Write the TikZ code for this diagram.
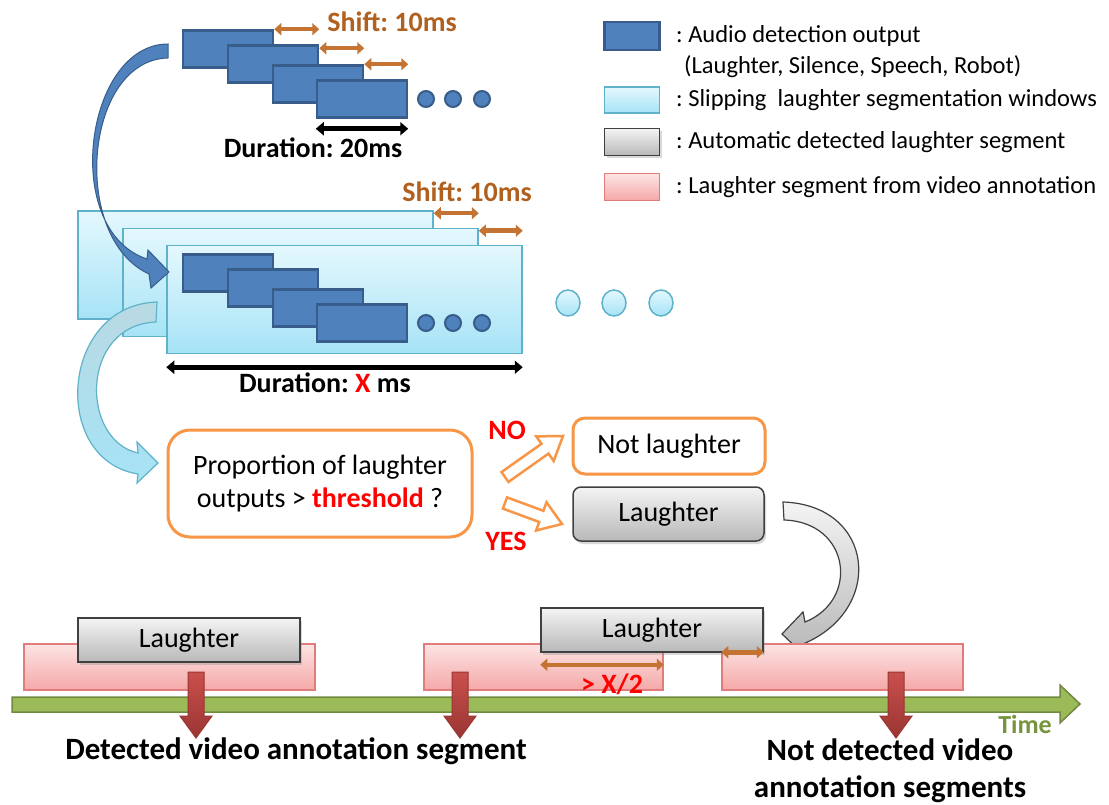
\documentclass[tikz,border=0pt]{standalone}
\usepackage{fontspec}
\setmainfont{Carlito}
\frenchspacing
\definecolor{audioblue}{HTML}{4F81BD}
\definecolor{audioedge}{HTML}{385D8A}
\definecolor{wintop}{HTML}{E4F8FD}
\definecolor{winbot}{HTML}{A6E3F6}
\definecolor{winedge}{HTML}{5FB2C9}
\definecolor{shiftbrown}{HTML}{C47332}
\definecolor{labelbrown}{HTML}{B0601F}
\definecolor{boxorange}{HTML}{F79646}
\definecolor{graytop}{HTML}{F4F4F4}
\definecolor{graybot}{HTML}{B8B8B8}
\definecolor{grayedge}{HTML}{404040}
\definecolor{pinktop}{HTML}{FDE4E4}
\definecolor{pinkbot}{HTML}{F5A8A8}
\definecolor{pinkedge}{HTML}{E07C7C}
\definecolor{timegreen}{HTML}{9BBB59}
\definecolor{timeedge}{HTML}{71893F}
\definecolor{timetext}{HTML}{77933C}
\definecolor{markred}{HTML}{C9504D}
\definecolor{markdark}{HTML}{9A3532}
\usetikzlibrary{arrows.meta,positioning,calc,shadows}

\newcommand\txtsize{\fontsize{28}{33}\selectfont}
\newcommand\legsize{\fontsize{24.5}{30}\selectfont}
\newcommand\bigsize{\fontsize{31}{37}\selectfont}

\tikzset{
  audiobox/.style={draw=audioedge,fill=audioblue,line width=2.5pt,minimum width=90pt,minimum height=37pt,inner sep=0pt},
  audiodot/.style={draw=audioedge,fill=audioblue,line width=2pt},
  winbox/.style={draw=winedge,top color=wintop,bottom color=winbot,line width=1.5pt,inner sep=0pt},
  windot/.style={draw=winedge,top color=wintop,bottom color=winbot,line width=1.5pt},
  graybox/.style={draw=grayedge,top color=graytop,bottom color=graybot,line width=1.5pt,inner sep=0pt,font=\txtsize,
    drop shadow={shadow xshift=2pt,shadow yshift=-3pt,opacity=0.3}},
  pinkseg/.style={draw=pinkedge,top color=pinktop,bottom color=pinkbot,line width=1.5pt,minimum height=46pt,inner sep=0pt},
  orangebox/.style={draw=boxorange,fill=white,line width=3pt,inner sep=0pt,font=\txtsize,align=center},
  shiftarr/.style={{Triangle[length=7pt,width=12pt]}-{Triangle[length=7pt,width=12pt]},draw=shiftbrown,line width=4.5pt},
  durarr/.style={{Triangle[length=8pt,width=13pt]}-{Triangle[length=8pt,width=13pt]},draw=black,line width=4.5pt},
  shiftlabel/.style={font=\txtsize\bfseries,text=labelbrown,inner sep=0pt},
  durlabel/.style={font=\txtsize\bfseries,inner sep=0pt},
  legtext/.style={anchor=west,font=\legsize,inner sep=0pt},
  redlabel/.style={font=\txtsize\bfseries,text=red,inner sep=0pt},
  bigtext/.style={font=\bigsize\bfseries,align=center,inner sep=0pt},
  blockarr/.style={draw=boxorange,fill=white,line width=2.5pt,line join=miter},
  redarr/.style={draw=markdark,top color=markred,bottom color=markdark,line width=1pt}
}
\newcommand\dropmark[1]{\draw[redarr] (#1-8,672) -- (#1+8,672) -- (#1+8,716) -- (#1+16,716) -- (#1,738) -- (#1-16,716) -- (#1-8,716) -- cycle;}

\begin{document}
\begin{tikzpicture}[x=1pt,y=-1pt]
\useasboundingbox (0,0) rectangle (1109,805);

% legend
\node[audiobox,minimum width=55pt,minimum height=28pt] (legA) at (632,36) {};
\node[legtext] (legAtxt) at (676,36) {: Audio detection output};
\node[legtext] (legAtxt2) at (684,67) {(Laughter, Silence, Speech, Robot)};
\node[winbox,minimum width=55pt,minimum height=26pt] (legW) at (632,100) {};
\node[legtext] (legWtxt) at (676,100) {: Slipping\ \ laughter segmentation windows};
\node[graybox,minimum width=55pt,minimum height=27pt,drop shadow={opacity=0}] (legG) at (632,142) {};
\node[legtext] (legGtxt) at (676,142) {: Automatic detected laughter segment};
\node[pinkseg,minimum width=55pt,minimum height=27pt] (legP) at (632,187) {};
\node[legtext] (legPtxt) at (676,187) {: Laughter segment from video annotation};

% audio outputs
\foreach \cx/\cy [count=\i] in {228/49,273/64,318/84,362/99}
  \node[audiobox] (top\i) at (\cx,\cy) {};
\foreach \dx in {426,453,482}
  \draw[audiodot] (\dx,99) circle (8pt);
\draw[shiftarr] (top1.north east) -- (top1.north east -| top2.east);
\draw[shiftarr] ([yshift=-4pt]top2.north east) -- ([yshift=-4pt]top2.north east -| top3.east);
\draw[shiftarr] (top3.north east) -- (top3.north east -| top4.east);
\node[shiftlabel] (shiftA) at (392,22) {Shift: 10ms};
\draw[durarr] ([yshift=-10pt]top4.south west) -- ([yshift=-10pt]top4.south east);
\node[durlabel] (durA) at (313,148) {Duration: 20ms};

% segmentation windows
\node[winbox,minimum width=355pt,minimum height=108pt] (win1) at (255.5,265) {};
\node[winbox,minimum width=355pt,minimum height=108pt] (win2) at (300.5,282.5) {};
\node[winbox,minimum width=355pt,minimum height=108pt] (win3) at (344.5,299.5) {};
\foreach \cx/\cy [count=\i] in {228/49,273/64,318/84,362/99}
  \node[audiobox] (in\i) at (\cx,\cy+224) {};
\foreach \dx in {426,453,482}
  \draw[audiodot] (\dx,323) circle (8pt);
\foreach \dx in {568,614,661}
  \draw[windot] (\dx,303) ellipse (12pt and 13pt);
\draw[shiftarr] ([yshift=-3pt]win1.north east) -- ([yshift=-3pt]win1.north east -| win2.east);
\draw[shiftarr] ([yshift=-3pt]win2.north east) -- ([yshift=-3pt]win2.north east -| win3.east);
\node[shiftlabel] (shiftW) at (467,192) {Shift: 10ms};
\draw[durarr] ([yshift=-13pt]win3.south west) -- ([yshift=-13pt]win3.south east);
\node[durlabel] (durW) at (325,383) {Duration: \textcolor{red}{X} ms};

% curved arrows
\draw[draw=audioedge,fill=audioblue,line width=1pt] (168,44) .. controls (85,44) and (60,230) .. (147,259)
  -- (148,250) -- (169,272) -- (151,288) -- (149,274) .. controls (70,238) and (84,60) .. (168,58) -- cycle;
\draw[draw=winedge,top color=graytop!60!winedge,bottom color=winbot,line width=1.2pt] (157,302) .. controls (60,305) and (50,460) .. (138,474)
  -- (137,483) -- (158,463) -- (137,442) -- (138,453) .. controls (80,440) and (80,325) .. (156,322) -- cycle;

% decision
\node[orangebox,rounded corners=22pt,minimum width=304pt,minimum height=107pt] (decide) at (320,483.5)
  {Proportion of laughter\\outputs > \textcolor{red}{\textbf{threshold}} ?};
\node[orangebox,rounded corners=12pt,minimum width=192pt,minimum height=56pt] (notlaugh) at (669,446) {Not laughter};
\node[graybox,rounded corners=8pt,minimum width=191pt,minimum height=54pt] (laugh) at (668.5,514) {Laughter};
\draw[blockarr] (508.5,481.9) -- (548.5,453.6) -- (553.7,461) -- (563,436) -- (536.3,436.4) -- (541.5,443.8) -- (501.5,472.1) -- cycle;
\draw[blockarr] (502.9,508.6) -- (539.2,522) -- (536.1,530.5) -- (562,524) -- (546.5,502.3) -- (543.4,510.8) -- (507.1,497.4) -- cycle;
\node[redlabel] (no) at (507,430) {NO};
\node[redlabel] (yes) at (506,541) {YES};
\draw[draw=grayedge,top color=graytop,bottom color=graybot,line width=1.2pt] (783,502) .. controls (875,505) and (885,610) .. (803,644)
  -- (801,652) -- (782,634) -- (803,612) -- (805,622) .. controls (860,600) and (850,522) .. (784,520) -- cycle;

% time line
\draw[draw=timeedge,fill=timegreen,line width=1.5pt] (12,697) -- (1060,697) -- (1060,685) -- (1080,704) -- (1060,723) -- (1060,712) -- (12,712) -- cycle;
\node[font=\fontsize{26}{30}\selectfont\bfseries,text=timetext,inner sep=0pt] (time) at (1025,724) {Time};
\node[pinkseg,minimum width=291pt] (seg1) at (169.5,667) {};
\node[pinkseg,minimum width=239pt] (seg2) at (543.5,667) {};
\node[pinkseg,minimum width=241pt] (seg3) at (842.5,667) {};
\node[graybox,minimum width=222pt,minimum height=44pt] (laugh1) at (189,640) {Laughter};
\node[graybox,minimum width=222pt,minimum height=44pt] (laugh2) at (652,630) {Laughter};
\draw[shiftarr] ([yshift=-12pt]laugh2.south west) -- ([yshift=-12pt]laugh2.south west -| seg2.east);
\draw[shiftarr] ([yshift=-9pt]seg3.north west) -- ([yshift=-9pt]seg3.north west -| laugh2.east);
\node[redlabel] (half) at (612,684) {> X/2};
\dropmark{196}
\dropmark{460}
\dropmark{896}
\node[bigtext] (detected) at (296,751) {Detected video annotation segment};
\node[bigtext] (notdetected) at (890,771) {Not detected video\\annotation segments};
\end{tikzpicture}
\end{document}
